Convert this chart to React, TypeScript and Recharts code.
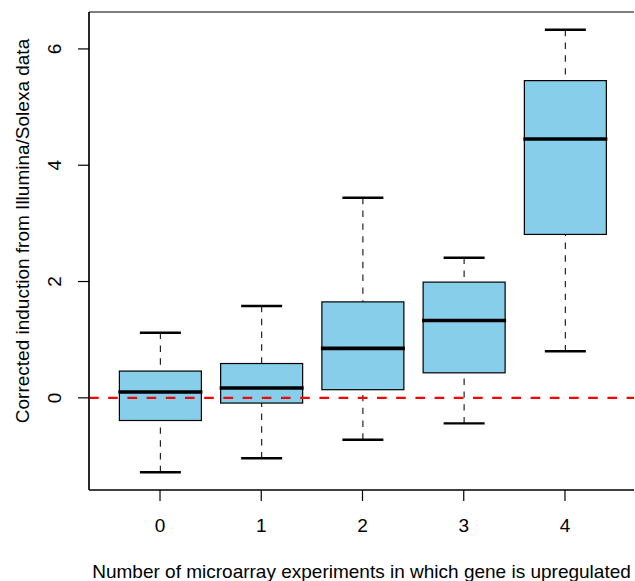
import React from 'react';
import { ComposedChart, Bar, XAxis, YAxis, ReferenceLine, Label, CartesianGrid } from 'recharts';

// ---- Data ----
const groups = ['0', '1', '2', '3', '4'];
const whiskerLow = [-1.28, -1.04, -0.72, -0.44, 0.8];
const lowerQuartile = [-0.39, -0.09, 0.14, 0.43, 2.81];
const medians = [0.1, 0.17, 0.85, 1.33, 4.45];
const upperQuartile = [0.46, 0.59, 1.65, 1.99, 5.455];
const whiskerHigh = [1.12, 1.58, 3.44, 2.41, 6.33];
const yTicks = [0, 2, 4, 6];
const yDomain = [-1.585, 6.635];

const xLabel = 'Number of microarray experiments in which gene is upregulated';
const yLabel = 'Corrected induction from Illumina/Solexa data';

const data = groups.map((g, i) => ({
  group: g,
  low: whiskerLow[i],
  q1: lowerQuartile[i],
  median: medians[i],
  q3: upperQuartile[i],
  high: whiskerHigh[i],
}));

const FONT = '"Liberation Sans", Arial, Helvetica, sans-serif';
const FONT_SIZE = 19;

const BoxShape = (props: any) => {
  const { x, y, width, height, payload } = props;
  const { low, q1, median, q3, high } = payload;
  const k = height / (high - low);
  const py = (v: number) => y + (high - v) * k;
  const cx = x + width / 2;
  const capHalf = width / 4;
  const dash = '6.4 6.4';
  return (
    <g>
      <line x1={cx} x2={cx} y1={py(high)} y2={py(q3)} stroke="#222" strokeWidth={1.2} strokeDasharray={dash} />
      <line x1={cx} x2={cx} y1={py(low)} y2={py(q1)} stroke="#222" strokeWidth={1.2} strokeDasharray={dash} />
      <line x1={cx - capHalf} x2={cx + capHalf} y1={py(high)} y2={py(high)} stroke="#000" strokeWidth={2.4} />
      <line x1={cx - capHalf} x2={cx + capHalf} y1={py(low)} y2={py(low)} stroke="#000" strokeWidth={2.4} />
      <rect x={x} y={py(q3)} width={width} height={py(q1) - py(q3)} fill="#87CEEB" stroke="#000" strokeWidth={1.2} />
      <line x1={x - 1} x2={x + width + 1} y1={py(median)} y2={py(median)} stroke="#000" strokeWidth={3.6} />
    </g>
  );
};

const XTick = (props: any) => {
  const { x, y, payload } = props;
  return (
    <text x={x} y={y + 31} textAnchor="middle" fontFamily={FONT} fontSize={FONT_SIZE} fill="#000">
      {payload.value}
    </text>
  );
};

const YTick = (props: any) => {
  const { x, y, payload } = props;
  const tx = x - 17;
  return (
    <text x={tx} y={y} textAnchor="middle" transform={`rotate(-90, ${tx}, ${y})`} fontFamily={FONT} fontSize={FONT_SIZE} fill="#000">
      {payload.value}
    </text>
  );
};

export default function App() {
  return (
    <div style={{ position: 'absolute', left: 0, top: 0, background: '#fff' }}>
      <ComposedChart
        width={635}
        height={581}
        data={data}
        margin={{ top: 12, right: 1, bottom: 31, left: 29 }}
      >
        <CartesianGrid
          stroke="#000"
          strokeWidth={1.2}
          horizontalCoordinatesGenerator={(p: any) => [p.offset.top, p.offset.top + p.offset.height]}
          verticalCoordinatesGenerator={(p: any) => [p.offset.left]}
        />
        <XAxis
          dataKey="group"
          padding={{ left: 20.4, right: 18.4 }}
          height={60}
          tickSize={11}
          tickMargin={0}
          tick={<XTick />}
          axisLine={{ stroke: '#000', strokeWidth: 1.2 }}
          tickLine={{ stroke: '#000', strokeWidth: 1.2 }}
        >
          <Label
            content={(p: any) => {
              const vb = p.viewBox || { x: 89, y: 490, width: 545, height: 60 };
              return (
                <text x={vb.x + vb.width / 2} y={vb.y + 88} textAnchor="middle" fontFamily={FONT} fontSize={FONT_SIZE} fill="#000">
                  {xLabel}
                </text>
              );
            }}
          />
        </XAxis>
        <YAxis
          type="number"
          domain={yDomain}
          allowDataOverflow
          ticks={yTicks}
          width={60}
          tickSize={11}
          tickMargin={0}
          tick={<YTick />}
          axisLine={{ stroke: '#000', strokeWidth: 1.2 }}
          tickLine={{ stroke: '#000', strokeWidth: 1.2 }}
        >
          <Label
            content={(p: any) => {
              const vb = p.viewBox || { x: 29, y: 12, width: 60, height: 478 };
              const tx = vb.x;
              const ty = vb.y + vb.height / 2 - 20;
              return (
                <text x={tx} y={ty} textAnchor="middle" transform={`rotate(-90, ${tx}, ${ty})`} fontFamily={FONT} fontSize={FONT_SIZE} fill="#000">
                  {yLabel}
                </text>
              );
            }}
          />
        </YAxis>
        <Bar
          dataKey={(d: any) => [d.low, d.high]}
          barSize={82}
          shape={<BoxShape />}
          isAnimationActive={false}
        />
        <ReferenceLine y={0} stroke="#FF0000" strokeWidth={2.4} strokeDasharray="9.6 9.6" />
      </ComposedChart>
    </div>
  );
}
